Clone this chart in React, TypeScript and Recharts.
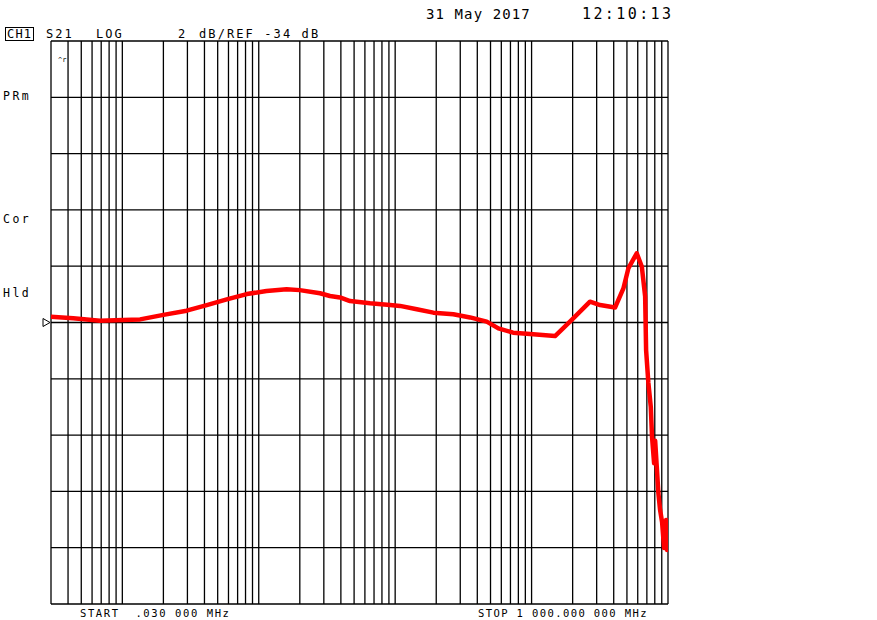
import { LineChart, Line, XAxis, YAxis, CartesianGrid, ReferenceDot } from "recharts";

// S21 sweep, frequency in MHz, magnitude in dB
const freqMHz = [
  0.03, 0.0437, 0.0686, 0.1017, 0.135, 0.2, 0.296, 0.416, 0.583, 0.817,
  1.14, 1.6, 2.0, 2.81, 3.33, 3.94, 4.67, 6.55, 9.17, 10.86,
  14.4, 19.05, 26.7, 35.4, 46.9, 57.1, 73.2, 97.5, 148.6, 197,
  268, 318, 409, 471, 512, 590, 643, 680, 691, 718,
  748, 764, 791, 805, 824, 850, 875, 905, 936, 968,
  985, 1000,
];
const s21dB = [
  -33.8, -33.85, -33.94, -33.91, -33.89, -33.73, -33.58, -33.38, -33.18, -32.99,
  -32.88, -32.82, -32.85, -32.96, -33.06, -33.11, -33.24, -33.32, -33.38, -33.41,
  -33.53, -33.65, -33.71, -33.82, -33.97, -34.21, -34.36, -34.41, -34.48, -33.91,
  -33.26, -33.38, -33.47, -32.79, -32.08, -31.54, -32.02, -33.08, -34.98, -36.15,
  -37.0, -38.07, -39.0, -38.2, -38.99, -40.06, -40.66, -41.09, -42.01, -41.02,
  -42.08, -41.37,
];

// log grid: 2..9 of every decade between start and stop
const gridFreqs = [
  0.03, 0.04, 0.05, 0.06, 0.07, 0.08, 0.09,
  0.1, 0.2, 0.3, 0.4, 0.5, 0.6, 0.7, 0.8, 0.9,
  1, 2, 3, 4, 5, 6, 7, 8, 9,
  10, 20, 30, 40, 50, 60, 70, 80, 90,
  100, 200, 300, 400, 500, 600, 700, 800, 900, 1000,
];
const dbTicks = [-44, -42, -40, -38, -36, -34, -32, -30, -28, -26, -24];
const refLevel = -34;

const data = freqMHz.map((f, i) => ({ f, db: s21dB[i] }));

const mono = "'DejaVu Sans Mono', monospace";

const label = (left: number, top: number, size: number, spacing: number) => ({
  position: "absolute" as const,
  left,
  top,
  fontFamily: mono,
  fontSize: size,
  letterSpacing: spacing,
  lineHeight: 1,
  color: "#000",
  whiteSpace: "pre" as const,
});

function RefMarker(props: any) {
  const { cx, cy } = props;
  return (
    <polygon
      points={`${cx - 8},${cy - 4} ${cx - 1},${cy} ${cx - 8},${cy + 4}`}
      fill="#fff"
      stroke="#000"
      strokeWidth={1}
    />
  );
}

export default function App() {
  return (
    <div style={{ position: "absolute", left: 0, top: 0, width: 877, height: 620, background: "#fff" }}>
      <LineChart width={877} height={620} data={data} margin={{ top: 41, right: 209, bottom: 16, left: 51 }}>
        <CartesianGrid stroke="#000" strokeWidth={1.3} />
        <XAxis
          dataKey="f"
          type="number"
          scale="log"
          domain={[0.03, 1000]}
          ticks={gridFreqs}
          interval={0}
          allowDataOverflow
          hide
        />
        <YAxis type="number" domain={[-44, -24]} ticks={dbTicks} interval={0} allowDataOverflow hide />
        <ReferenceDot x={0.03} y={refLevel} ifOverflow="visible" shape={RefMarker} />
        <Line
          type="linear"
          dataKey="db"
          stroke="#ff0000"
          strokeWidth={4.5}
          strokeLinejoin="round"
          dot={false}
          isAnimationActive={false}
        />
      </LineChart>

      <div style={label(426, 7, 14, 1.1)}>31 May 2017</div>
      <div style={label(582, 7, 15, 2.4)}>12:10:13</div>

      <div style={{ ...label(5, 27, 12, 1.2), border: "1px solid #000", padding: "0 1px" }}>CH1</div>
      <div style={label(46, 28, 12, 2)}>S21</div>
      <div style={label(96, 28, 12, 2)}>LOG</div>
      <div style={label(178, 28, 12, 2)}>2</div>
      <div style={label(199, 28, 12, 2.1)}>dB/REF -34 dB</div>

      <div style={label(58, 57, 7, 0)}>^r</div>

      <div style={label(3, 91, 11.5, 2.5)}>PRm</div>
      <div style={label(3, 214, 11.5, 2.5)}>Cor</div>
      <div style={label(3, 288, 11.5, 2.5)}>Hld</div>

      <div style={label(80, 608, 10.5, 1.6)}>START  .030 000 MHz</div>
      <div style={label(478, 608, 10.5, 1.4)}>STOP 1 000.000 000 MHz</div>
    </div>
  );
}
